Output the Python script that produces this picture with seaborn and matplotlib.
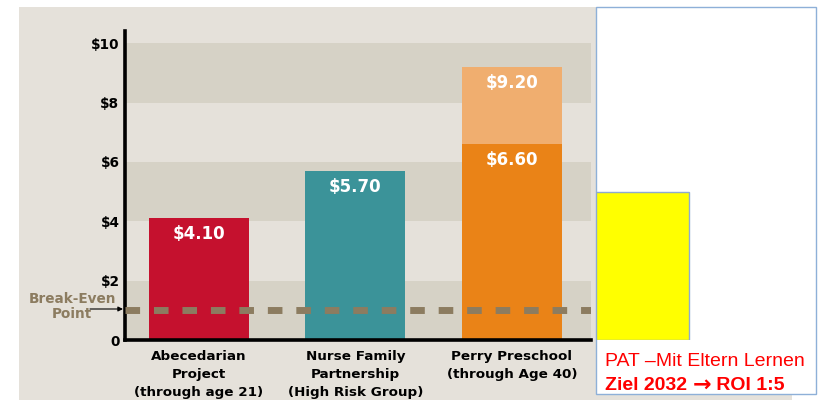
"""
Return on investment of early childhood programs, with the PAT target box
"""

import matplotlib
matplotlib.use("Agg")
import matplotlib.pyplot as plt
import seaborn as sns
import pandas as pd
from matplotlib.patches import Rectangle

# data
programs = ["Abecedarian\nProject\n(through age 21)",
            "Nurse Family\nPartnership\n(High Risk Group)",
            "Perry Preschool\n(through Age 40)"]
roi_total = [4.1, 5.7, 9.2]
roi_base = [4.1, 5.7, 6.6]
break_even = 1.0
y_ticks = [0, 2, 4, 6, 8, 10]
y_tick_labels = ["0", "$2", "$4", "$6", "$8", "$10"]
pat_label = ["PAT"]
pat_roi = [5]

# colours
BEIGE = "#e5e1da"
BAND = "#d6d2c6"
TAUPE = "#8c7c60"
top_colors = ["#c5112e", "#3b9399", "#f0ae6f"]
base_colors = ["#c5112e", "#3b9399", "#ea8317"]
RED_TXT = "#ff0000"

sns.set_theme(style="white")
plt.rcParams["font.family"] = ["DejaVu Sans"]

W, H = 825, 400
fig = plt.figure(figsize=(W / 100, H / 100), dpi=100, facecolor="white")

# beige slide panel and white box
fig.patches.append(Rectangle((19 / W, 0), (792 - 19) / W, (H - 7) / H,
                             transform=fig.transFigure, facecolor=BEIGE,
                             edgecolor="none", zorder=-2))
fig.patches.append(Rectangle((596 / W, 1 - 394 / H), (816 - 596) / W, (394 - 7) / H,
                             transform=fig.transFigure, facecolor="white",
                             edgecolor="#8eb0d8", lw=1, zorder=-1))

ax = fig.add_axes([125 / W, 60 / H, (591 - 125) / W, (340 - 30.7) / H])
ax.set_facecolor("none")

df_top = pd.DataFrame({"program": programs, "roi": roi_total})
df_base = pd.DataFrame({"program": programs, "roi": roi_base})

# alternating bands behind the bars
for lo in y_ticks[::2]:
    ax.axhspan(lo, lo + 2, color=BAND, zorder=0, lw=0)

sns.barplot(data=df_top, x="program", y="roi", hue="program", palette=top_colors,
            legend=False, width=0.64, saturation=1, linewidth=0, edgecolor="none",
            ax=ax, zorder=2)
sns.barplot(data=df_base, x="program", y="roi", hue="program", palette=base_colors,
            legend=False, width=0.64, saturation=1, linewidth=0, edgecolor="none",
            ax=ax, zorder=2)

ax.axhline(break_even, color=TAUPE, lw=5, dashes=(2.1, 2), zorder=3)

# value labels
for i, v in enumerate(roi_total):
    ax.annotate(f"${v:.2f}", (i, v), xytext=(0, -11.5), textcoords="offset points",
                ha="center", va="center", color="white", fontsize=12,
                fontweight="bold", zorder=4)
ax.annotate(f"${roi_base[2]:.2f}", (2, roi_base[2]), xytext=(0, -11.5),
            textcoords="offset points", ha="center", va="center", color="white",
            fontsize=12, fontweight="bold", zorder=4)

ax.set_xlim(-0.472, 2.506)
ax.set_ylim(0, 10.42)
ax.set_yticks(y_ticks)
ax.set_yticklabels(y_tick_labels, fontsize=9.8, fontweight="bold", color="black")
ax.tick_params(axis="both", length=0)
ax.tick_params(axis="y", pad=4)
ax.tick_params(axis="x", pad=7)
for lab in ax.get_xticklabels():
    lab.set_fontsize(9.7)
    lab.set_fontweight("bold")
    lab.set_color("black")
    lab.set_multialignment("center")
    lab.set_linespacing(1.5)
ax.set_xlabel("")
ax.set_ylabel("")
for side in ["top", "right"]:
    ax.spines[side].set_visible(False)
for side in ["left", "bottom"]:
    ax.spines[side].set_color("black")
    ax.spines[side].set_linewidth(2.6)

# break-even label
fig.text(72 / W, 1 - 306.5 / H, "Break-Even\nPoint", ha="center", va="center",
         multialignment="center", color=TAUPE, fontsize=9.8, fontweight="bold",
         linespacing=1.12)
ax.annotate("", xy=(123, 91), xycoords="figure pixels", xytext=(90, 91),
            textcoords="figure pixels",
            arrowprops=dict(arrowstyle="-|>", color="black", lw=0.8,
                            mutation_scale=7, shrinkA=0, shrinkB=0))

# PAT target bar
ax2 = fig.add_axes([596 / W, 60 / H, (816 - 596) / W, (340 - 30.7) / H])
ax2.set_facecolor("none")
sns.barplot(x=pat_label, y=pat_roi, color="#ffff00", saturation=1, width=0.8,
            edgecolor="#8eaad0", linewidth=1, ax=ax2)
ax2.set_xlim(-0.4, 1.492)
ax2.set_ylim(0, 10.42)
ax2.axis("off")

# red caption in the white box
sans = ["Liberation Sans", "DejaVu Sans"]
fig.text(605 / W, 1 - 362 / H, "PAT \u2013Mit Eltern Lernen", color=RED_TXT,
         fontsize=14, family=sans, va="center")
t1 = fig.text(605 / W, 1 - 385 / H, "Ziel 2032 ", color=RED_TXT,
              fontsize=14, fontweight="bold", family=sans, va="center")
t2 = ax2.annotate("\u2192", xy=(1, 0.5), xycoords=t1, color=RED_TXT, fontsize=16,
                  fontweight="bold", family=["DejaVu Sans"], va="center", ha="left",
                  annotation_clip=False)
ax2.annotate(" ROI 1:5", xy=(1, 0.5), xycoords=t2, color=RED_TXT, fontsize=14,
             fontweight="bold", family=sans, va="center", ha="left",
             annotation_clip=False)

fig.savefig("out.png", dpi=100)
